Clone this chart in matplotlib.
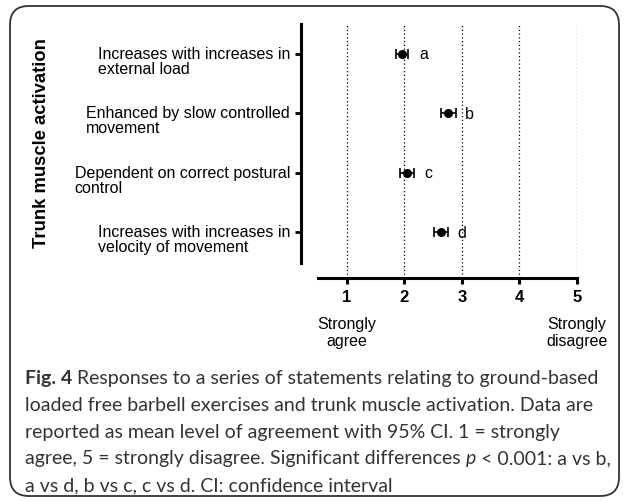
import matplotlib
matplotlib.use("Agg")
import matplotlib.pyplot as plt
from matplotlib.patches import FancyBboxPatch
from matplotlib.transforms import offset_copy

statements = [
    "Increases with increases in\nexternal load",
    "Enhanced by slow controlled\nmovement",
    "Dependent on correct postural\ncontrol",
    "Increases with increases in\nvelocity of movement",
]
letters = ["a", "b", "c", "d"]
means = [1.96, 2.76, 2.05, 2.63]
ci_low = [1.86, 2.64, 1.93, 2.51]
ci_high = [2.07, 2.89, 2.17, 2.75]
xticks = [1, 2, 3, 4, 5]

W, H = 627, 502
fig = plt.figure(figsize=(W / 100, H / 100), dpi=100)
plt.rcParams['font.family'] = ['Liberation Sans', 'DejaVu Sans']

# rounded frame
frame = FancyBboxPatch((10 / W, 5 / H), (619 - 10) / W, (495 - 5) / H,
                       boxstyle="round,pad=0,rounding_size=0.03",
                       transform=fig.transFigure, fill=False,
                       edgecolor="#333333", linewidth=1.3, mutation_aspect=W / H)
fig.patches.append(frame)

ax = fig.add_axes([318 / W, 1 - 279 / H, (577 - 318) / W, (279 - 25) / H])
ax.set_xlim(0.5, 5)
ax.set_ylim(3.765, -0.504)

ys = list(range(len(statements)))
for x in xticks:
    ax.axvline(x, color="black", linestyle=(0, (1, 2.0)), linewidth=0.9, zorder=1)

xerr = [[m - l for m, l in zip(means, ci_low)], [h - m for m, h in zip(means, ci_high)]]
ax.errorbar(means, ys, xerr=xerr, fmt="o", color="black", markersize=5.5,
            elinewidth=1.2, capsize=3.5, capthick=1.2, zorder=3)
for m, y, t in zip(means, ys, letters):
    ax.text(m + 0.3, y, t, ha="left", va="center", fontsize=11.5)

for s in ["top", "right"]:
    ax.spines[s].set_visible(False)
ax.spines["left"].set_position(("outward", 12))
ax.spines["left"].set_bounds(-0.504, 3.51)
ax.spines["left"].set_linewidth(2.2)
ax.spines["bottom"].set_linewidth(2.2)

ax.set_xticks(xticks)
ax.set_xticklabels([str(x) for x in xticks], fontweight="bold", fontsize=12)
ax.tick_params(axis="x", length=4.5, width=2.2, pad=3.5)
ax.set_yticks(ys)
ax.set_yticklabels([])
ax.tick_params(axis="y", length=4, width=2)

lab_tr = offset_copy(ax.get_yaxis_transform(), fig, x=-28, y=8, units="dots")
for y, s in zip(ys, statements):
    ax.text(0, y, s, transform=lab_tr, ha="right", va="top",
            multialignment="left", fontsize=11.5, linespacing=1.0)

ax.annotate("Strongly\nagree", xy=(1, 0), xycoords=("data", "axes fraction"),
            xytext=(0, -39), textcoords="offset points", ha="center", va="center",
            fontsize=11.5, linespacing=1.15)
ax.annotate("Strongly\ndisagree", xy=(5, 0), xycoords=("data", "axes fraction"),
            xytext=(0, -39), textcoords="offset points", ha="center", va="center",
            fontsize=11.5, linespacing=1.15)

fig.text(42 / W, 1 - 143 / H, "Trunk muscle activation", rotation=90,
         ha="center", va="center", fontweight="bold", fontsize=13.3)

# caption, built from styled pieces
cap_font = ["Lato", "DejaVu Sans"]
cap_size = 14
cap_color = "#333333"
caption = [
    [("Fig. 4", "bold", "normal"),
     (" Responses to a series of statements relating to ground-based", "normal", "normal")],
    [("loaded free barbell exercises and trunk muscle activation. Data are", "normal", "normal")],
    [("reported as mean level of agreement with 95% CI. 1 = strongly", "normal", "normal")],
    [("agree, 5 = strongly disagree. Significant differences ", "normal", "normal"),
     ("p", "normal", "italic"),
     (" < 0.001: a vs b,", "normal", "normal")],
    [("a vs d, b vs c, c vs d. CI: confidence interval", "normal", "normal")],
]
baselines = [384, 411, 438, 464, 491]
renderer = fig.canvas.get_renderer()
for line, yb in zip(caption, baselines):
    x = 25
    for txt, wt, st in line:
        t = fig.text(x / W, 1 - yb / H, txt, ha="left", va="baseline",
                     family=cap_font, fontsize=cap_size, fontweight=wt,
                     fontstyle=st, color=cap_color)
        bb = t.get_window_extent(renderer)
        x = bb.x1

fig.savefig("out.png", dpi=100)
